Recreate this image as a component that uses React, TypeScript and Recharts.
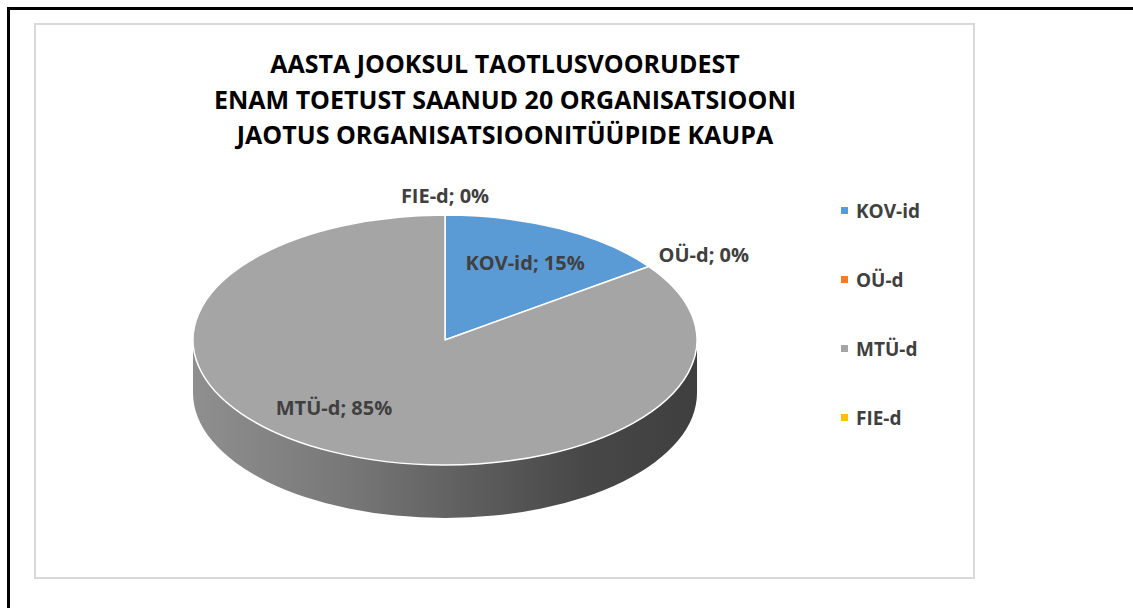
import React from 'react';
import { PieChart, Pie, Legend } from 'recharts';

const categories = ['KOV-id', 'OÜ-d', 'MTÜ-d', 'FIE-d'];
const shares = [15, 0, 85, 0];
const colors = ['#5b9bd5', '#ed7d31', '#a5a5a5', '#ffc000'];
const titleLines = [
  'AASTA JOOKSUL TAOTLUSVOORUDEST',
  'ENAM TOETUST SAANUD 20 ORGANISATSIOONI',
  'JAOTUS ORGANISATSIOONITÜÜPIDE KAUPA',
];

const data = categories.map((name, i) => ({ name, value: shares[i], fill: colors[i] }));

const FONT = '"Open Sans", sans-serif';
const TEXT = '#404040';
const TILT = 0.496; // ellipse ry / rx for the tilted pie
const DEPTH = 53; // thickness of the 3d side
const RAD = Math.PI / 180;

// point on the (tilted) pie rim
const pt = (cx: number, cy: number, r: number, a: number) => [
  cx + r * Math.cos(a * RAD),
  cy - r * TILT * Math.sin(a * RAD),
];

const TopFace = (props: any) => {
  const { cx, cy, outerRadius: r, startAngle, endAngle, fill } = props;
  if (Math.abs(startAngle - endAngle) < 0.01) return <g />;
  const [x1, y1] = pt(cx, cy, r, startAngle);
  const [x2, y2] = pt(cx, cy, r, endAngle);
  const large = Math.abs(startAngle - endAngle) > 180 ? 1 : 0;
  const sweep = startAngle > endAngle ? 1 : 0;
  const d = `M${cx},${cy} L${x1},${y1} A${r},${r * TILT} 0 ${large} ${sweep} ${x2},${y2} Z`;
  return <path d={d} fill={fill} stroke="#ffffff" strokeWidth={1.5} strokeLinejoin="round" />;
};

// only the front half of the rim (angles 0..-180) is visible
const SideWall = (props: any) => {
  const { cx, cy, outerRadius: r, startAngle, endAngle } = props;
  const hi = Math.min(Math.max(startAngle, endAngle), 0);
  const lo = Math.max(Math.min(startAngle, endAngle), -180);
  if (hi - lo < 0.01) return <g />;
  const [ax, ay] = pt(cx, cy, r, hi);
  const [bx, by] = pt(cx, cy, r, lo);
  const ry = r * TILT;
  const large = hi - lo > 180 ? 1 : 0;
  const d =
    `M${ax},${ay} A${r},${ry} 0 ${large} 1 ${bx},${by} ` +
    `L${bx},${by + DEPTH} A${r},${ry} 0 ${large} 0 ${ax},${ay + DEPTH} Z`;
  const gid = `side-${props.index}`;
  return (
    <g>
      <defs>
        <linearGradient id={gid} gradientUnits="userSpaceOnUse" x1={cx - r} y1={0} x2={cx + r} y2={0}>
          <stop offset="0" stopColor="#8f8f8f" />
          <stop offset="0.3" stopColor="#787878" />
          <stop offset="0.55" stopColor="#5e5e5e" />
          <stop offset="0.78" stopColor="#474747" />
          <stop offset="1" stopColor="#3f3f3f" />
        </linearGradient>
      </defs>
      <path d={d} fill={`url(#${gid})`} />
    </g>
  );
};

const renderLabel = (p: any) => {
  const { cx, cy, outerRadius: r, midAngle, percent, name, value } = p;
  let x: number;
  let y: number;
  let anchor: 'start' | 'middle' | 'end' = 'middle';
  if (value > 0) {
    // big slices get their label pulled toward the left, like Excel's best fit
    const a = percent > 0.5 ? midAngle - 12 : midAngle;
    [x, y] = pt(cx, cy, r * 0.7, a);
  } else {
    const c = Math.cos(midAngle * RAD);
    x = cx + (r + 12) * c;
    y = cy - (r * TILT + 20) * Math.sin(midAngle * RAD);
    anchor = c > 0.1 ? 'start' : c < -0.1 ? 'end' : 'middle';
  }
  return (
    <text
      x={x}
      y={y}
      textAnchor={anchor}
      dominantBaseline="central"
      fill={TEXT}
      fontFamily={FONT}
      fontWeight="bold"
      fontSize={20}
    >
      {`${name}; ${Math.round(percent * 100)}%`}
    </text>
  );
};

const renderLegend = () => (
  <div>
    {categories.map((c, i) => (
      <div key={c} style={{ height: 69, display: 'flex', alignItems: 'center' }}>
        <span style={{ width: 7, height: 7, background: colors[i], marginRight: 8, display: 'inline-block' }} />
        <span style={{ fontFamily: FONT, fontWeight: 'bold', fontSize: 19, color: TEXT }}>{c}</span>
      </div>
    ))}
  </div>
);

export default function App() {
  return (
    <div style={{ position: 'absolute', left: 0, top: 0, width: 1133, height: 608, background: '#fff' }}>
      <div style={{ position: 'absolute', left: 7, top: 7, width: 1126, height: 3, background: '#000' }} />
      <div style={{ position: 'absolute', left: 7, top: 7, width: 3, height: 601, background: '#000' }} />
      <div
        style={{
          position: 'absolute',
          left: 34,
          top: 23,
          width: 937,
          height: 552,
          border: '2px solid #d9d9d9',
        }}
      />
      <div
        style={{
          position: 'absolute',
          left: 155,
          top: 46,
          width: 700,
          textAlign: 'center',
          whiteSpace: 'nowrap',
          fontFamily: FONT,
          fontWeight: 'bold',
          fontSize: 25,
          lineHeight: '35.5px',
          color: '#000',
        }}
      >
        {titleLines.map((t) => (
          <div key={t}>{t}</div>
        ))}
      </div>
      <div style={{ position: 'absolute', left: 0, top: 0 }}>
        <PieChart width={1133} height={608} margin={{ top: 0, right: 0, bottom: 0, left: 0 }}>
          <Pie
            data={data}
            dataKey="value"
            nameKey="name"
            cx={445}
            cy={340}
            outerRadius={252}
            startAngle={90}
            endAngle={-270}
            shape={SideWall}
            label={false}
            legendType="none"
            isAnimationActive={false}
          />
          <Pie
            data={data}
            dataKey="value"
            nameKey="name"
            cx={445}
            cy={340}
            outerRadius={252}
            startAngle={90}
            endAngle={-270}
            shape={TopFace}
            label={renderLabel}
            labelLine={false}
            isAnimationActive={false}
          />
          <Legend
            layout="vertical"
            align="right"
            verticalAlign="top"
            content={renderLegend}
            wrapperStyle={{ left: 841, top: 176, width: 130 }}
          />
        </PieChart>
      </div>
    </div>
  );
}
